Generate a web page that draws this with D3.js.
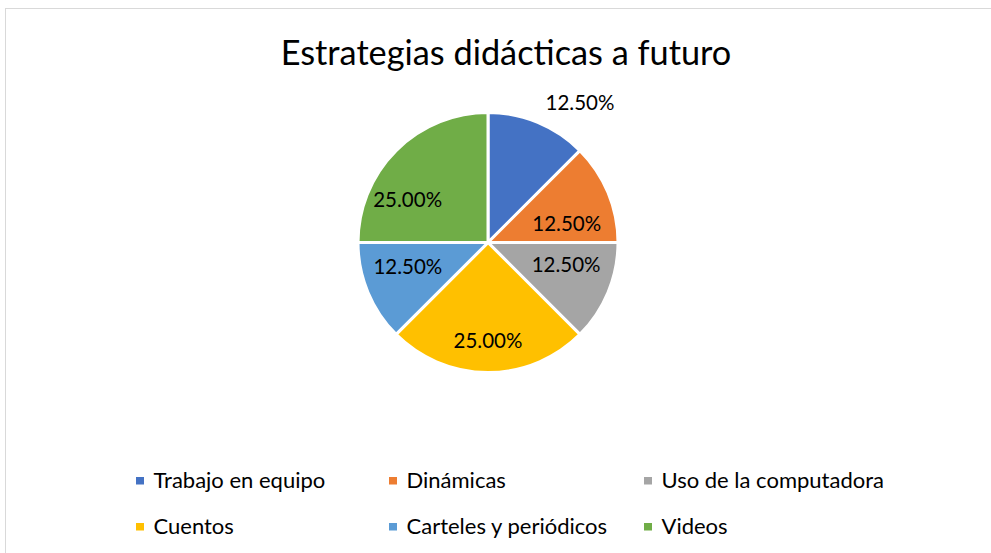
<!DOCTYPE html>
<html><head><meta charset="utf-8">
<script src="https://cdn.jsdelivr.net/npm/d3@7"></script>
<style>html,body{margin:0;padding:0;background:#fff;overflow:hidden}</style>
</head><body>
<svg id="c" width="991" height="553"></svg>
<script>
const categories = ["Trabajo en equipo","Dinámicas","Uso de la computadora","Cuentos","Carteles y periódicos","Videos"];
const values = [0.125,0.125,0.125,0.25,0.125,0.25];
const colors = ["#4472C4","#ED7D31","#A5A5A5","#FFC000","#5B9BD5","#70AD47"];
const title = "Estrategias didácticas a futuro";

const svg = d3.select("#c");
const font = "Lato, 'Open Sans', sans-serif";
svg.append("rect").attr("x",5.5).attr("y",8.5).attr("width",1000).attr("height",560)
  .attr("fill","#fff").attr("stroke","#d9d9d9").attr("stroke-width",1);

svg.append("text").attr("x",506).attr("y",65).attr("text-anchor","middle")
  .attr("font-family",font).attr("font-size",34.3).attr("fill","#000").text(title);

const cx=488, cy=242.5, R=130;
const pie = d3.pie().sort(null).value(d=>d)(values);
const arc = d3.arc().innerRadius(0).outerRadius(R);
const g = svg.append("g").attr("transform",`translate(${cx},${cy})`);
g.selectAll("path").data(pie).join("path").attr("d",arc)
  .attr("fill",(d,i)=>colors[i]).attr("stroke","#fff").attr("stroke-width",3).attr("stroke-linejoin","miter");

// label placement (polar: angle offset from slice mid, radius factor) mimicking Excel best-fit
const fmt = d3.format(".2%");
const place = [[10.9,1.285],[9,0.623],[-6.4,0.625],[0,0.755],[5.9,0.643],[-17,0.70]];
g.selectAll("text").data(pie).join("text")
  .attr("transform",(d,i)=>{
    const a=((d.startAngle+d.endAngle)/2)+place[i][0]*Math.PI/180;
    const r=R*place[i][1];
    return `translate(${r*Math.sin(a)},${-r*Math.cos(a)})`;
  })
  .attr("text-anchor","middle").attr("dy","0.35em")
  .attr("font-family",font).attr("font-size",20.5).attr("fill","#000")
  .text(d=>fmt(d.data));

// legend
const colX=[136,389,644], rowY=[488,534];
const lg = svg.append("g");
categories.forEach((c,i)=>{
  const x=colX[i%3], y=rowY[Math.floor(i/3)];
  lg.append("rect").attr("x",x).attr("y",y-11).attr("width",8).attr("height",7.5).attr("fill",colors[i]);
  lg.append("text").attr("x",x+17.5).attr("y",y)
    .attr("font-family",font).attr("font-size",22).attr("fill","#000").text(c);
});
</script>
</body></html>
